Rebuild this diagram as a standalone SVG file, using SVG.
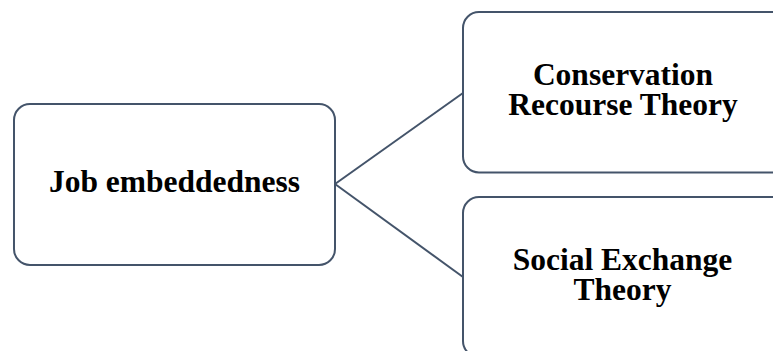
<svg xmlns="http://www.w3.org/2000/svg" width="773" height="351" viewBox="0 0 773 351">
  <style>
    .box { fill: #ffffff; stroke: #44546a; stroke-width: 2; }
    .edge { fill: none; stroke: #44546a; stroke-width: 2; }
    .label { font-family: "Liberation Serif", "Times New Roman", serif; font-weight: bold; font-size: 31.5px; fill: #000000; text-anchor: middle; }
  </style>
  <rect width="773" height="351" fill="#ffffff"/>
  <g id="connectors">
    <line class="edge" x1="335" y1="184" x2="463" y2="93"/>
    <line class="edge" x1="335" y1="184" x2="463" y2="277"/>
  </g>
  <g id="job-embeddedness">
    <rect class="box" x="14" y="104" width="321" height="161" rx="16" ry="16"/>
    <text class="label" x="174.5" y="192">Job embeddedness</text>
  </g>
  <g id="conservation-recourse-theory">
    <rect class="box" x="463" y="12" width="330" height="160.5" rx="16" ry="16"/>
    <text class="label" x="623" y="85">Conservation</text>
    <text class="label" x="623" y="115">Recourse Theory</text>
  </g>
  <g id="social-exchange-theory">
    <rect class="box" x="463" y="197" width="330" height="160" rx="16" ry="16"/>
    <text class="label" x="622.5" y="270">Social Exchange</text>
    <text class="label" x="622.5" y="300">Theory</text>
  </g>
</svg>
